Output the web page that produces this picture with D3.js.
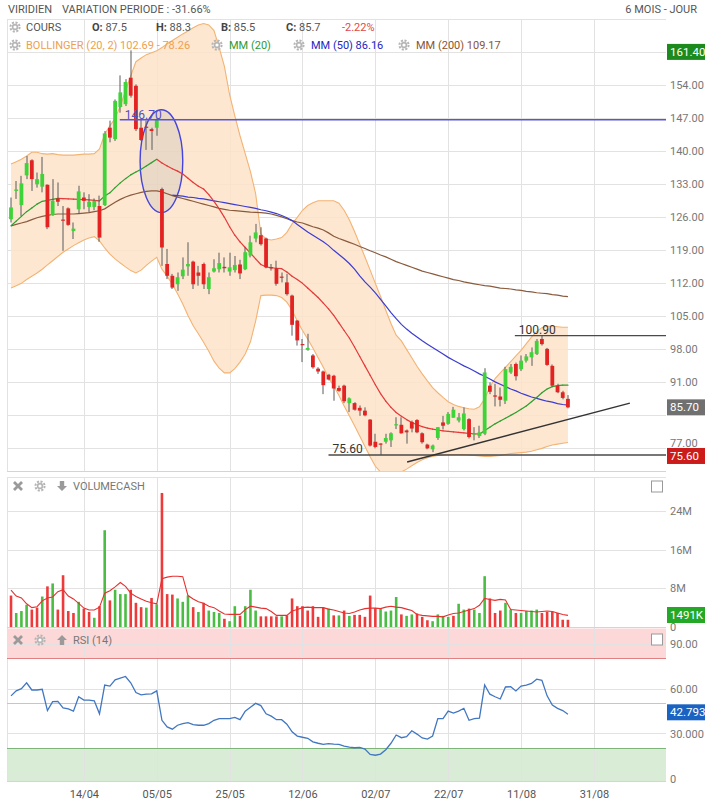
<!DOCTYPE html>
<html lang="fr">
<head>
  <title>VIRIDIEN</title>
  <meta charset="UTF-8">
  <style>
  body { margin: 0; background: #fff; }
  svg text { font-family: Roboto, "Liberation Sans", Arial, sans-serif; }
  </style>
</head>
<body>
  <svg id="chart" width="705" height="800"></svg>
  <script src="https://cdnjs.cloudflare.com/ajax/libs/d3/7.8.5/d3.min.js"></script>
  <script>
  // daily candles, one per trading day (index 0 = first bar on the chart)
  const opens = [125.6,131.6,128.6,134.9,138.1,133.0,132.5,132.9,126.5,130.0,
    125.4,127.9,123.1,127.7,130.2,128.2,128.2,128.4,128.6,145.0,
    142.6,149.4,150.0,155.6,153.9,145.0,145.1,144.7,145.0,132.0,
    116.1,113.6,111.8,113.5,115.6,116.6,114.3,116.1,110.8,114.5,
    115.0,115.5,114.5,114.8,116.0,115.0,117.9,121.5,122.2,121.5,
    115.3,115.2,113.3,112.2,109.4,104.1,99.0,97.9,96.7,93.9,
    93.3,92.6,92.4,89.8,90.3,86.6,86.6,85.6,85.0,83.1,
    78.4,77.9,78.4,78.7,81.8,82.0,80.8,82.6,83.0,80.2,
    77.8,76.8,79.2,82.5,82.2,83.5,82.9,81.1,83.2,79.9,
    79.6,80.1,90.3,88.1,88.0,87.1,93.1,94.9,93.8,95.6,
    96.3,97.0,100.2,98.1,94.5,90.3,88.9,87.5];
  const highs = [130.2,133.7,134.8,139.0,138.3,135.5,138.8,133.0,134.1,133.4,
    128.4,128.1,124.9,132.7,131.3,130.9,130.0,130.6,144.3,146.5,
    151.0,156.1,155.3,161.4,154.2,146.8,146.5,145.0,147.0,132.3,
    119.3,114.0,114.3,117.5,120.7,116.8,115.7,116.4,114.3,117.1,
    118.5,117.5,118.5,117.8,117.0,119.6,122.1,124.6,123.9,121.7,
    116.1,116.8,114.3,114.0,109.6,104.2,100.2,101.3,97.0,94.2,
    93.5,92.8,92.6,90.3,90.5,87.8,86.8,86.1,85.7,83.2,
    80.1,78.1,80.1,80.4,83.6,83.6,81.0,82.9,83.2,80.4,
    78.0,77.8,81.5,83.9,84.7,85.8,84.5,85.7,83.4,81.5,
    81.8,94.0,91.0,90.7,89.9,94.3,94.9,95.2,96.7,97.0,
    98.4,100.2,100.9,98.3,94.8,90.7,89.2,88.3];
  const lows = [124.9,129.9,126.3,134.1,131.6,132.3,131.3,123.5,126.3,128.4,
    118.9,124.2,121.4,126.7,127.7,127.0,127.5,120.8,128.4,141.9,
    142.2,148.2,149.6,151.4,144.3,142.2,140.3,140.3,143.3,115.7,
    112.9,110.8,110.4,112.9,113.6,110.8,111.5,110.8,109.7,114.3,
    114.3,114.3,113.6,114.3,112.9,114.8,117.5,120.7,120.0,115.2,
    114.7,111.5,112.2,109.4,100.9,98.8,95.3,97.7,93.9,92.8,
    88.5,91.4,87.1,89.0,86.6,84.7,85.0,83.9,83.8,77.4,
    77.0,75.6,78.0,77.3,81.1,80.1,78.0,80.4,80.2,78.0,
    76.8,76.2,78.8,81.0,82.0,83.5,82.5,80.8,79.1,78.7,
    79.2,79.8,88.5,85.9,85.9,86.4,92.8,91.4,93.4,95.2,
    94.5,96.8,98.8,94.5,90.1,88.7,87.4,85.5];
  const closes = [128.1,131.9,133.2,137.5,134.1,134.1,135.2,123.9,129.5,129.3,
    125.2,124.4,123.6,131.5,129.5,129.3,129.5,121.7,143.8,142.9,
    150.7,152.5,154.7,151.8,144.7,142.4,144.9,144.3,146.8,119.6,
    113.6,111.1,113.3,114.9,116.1,111.8,113.6,111.8,113.3,115.2,
    116.3,115.2,115.4,115.9,114.1,118.6,120.7,122.8,120.3,115.4,
    115.1,111.9,113.2,109.7,103.2,99.9,98.8,98.3,94.2,93.3,
    90.4,91.6,89.7,89.2,87.0,87.6,85.2,85.0,84.0,77.6,
    77.3,77.8,79.2,80.2,82.0,80.2,80.4,81.2,80.4,78.3,
    77.0,77.6,81.5,81.8,84.3,85.2,83.6,84.4,79.4,80.2,
    80.4,93.1,89.0,87.9,87.3,93.8,94.3,92.3,95.6,96.5,
    97.4,99.8,99.1,94.7,90.3,88.9,87.7,85.7];

  // indicators
  const bollUp = [137.3,137.8,138.3,139.0,139.8,139.8,139.5,139.4,139.5,139.3,
    139.2,139.2,139.2,139.3,139.4,139.4,139.5,140.5,143.6,145.4,
    147.0,149.6,152.8,156.0,159.0,159.8,160.5,160.9,161.3,162.0,
    162.8,163.5,164.2,164.9,165.5,166.2,166.8,167.1,166.8,165.6,
    162.0,158.0,152.0,147.5,143.3,139.5,135.7,131.0,122.5,121.4,
    121.2,121.4,121.7,122.8,124.6,126.0,127.5,128.5,129.1,129.5,
    129.5,129.5,129.5,129.0,127.5,125.5,123.0,120.3,117.6,114.8,
    112.0,109.2,106.3,103.5,101.0,99.8,98.0,96.2,94.4,92.8,
    91.3,89.9,88.8,87.8,86.9,86.3,85.9,85.6,85.4,85.3,
    85.8,87.5,90.0,91.8,93.0,94.2,95.4,96.6,97.8,99.2,
    100.6,101.8,102.6,102.9,102.9,102.8,102.7,102.69];
  const bollLow = [111.0,111.5,112.0,112.8,113.5,114.2,115.0,115.9,116.8,117.7,
    118.6,119.3,120.0,120.6,121.2,121.6,121.9,121.0,119.5,118.2,
    117.2,116.3,115.5,114.7,114.2,114.8,115.8,116.7,117.5,115.0,
    113.5,111.8,109.8,107.6,105.2,103.0,101.3,99.5,97.6,95.5,
    94.0,93.0,93.0,93.9,95.3,97.0,99.6,104.0,109.4,109.5,
    109.5,109.4,109.0,108.0,106.3,104.0,102.0,100.2,98.3,96.2,
    94.2,92.0,90.3,88.2,86.0,83.9,81.8,79.6,77.4,75.2,
    73.2,72.0,71.5,71.3,71.5,72.0,72.6,73.3,74.0,74.6,
    75.0,75.3,75.5,75.6,75.7,75.7,75.7,75.7,75.6,75.5,
    75.4,75.3,75.3,75.4,75.5,75.7,75.9,76.0,76.1,76.2,
    76.4,76.7,77.0,77.4,77.7,77.9,78.1,78.26];
  const ma20 = [124.2,125.2,126.2,127.2,128.0,128.8,129.4,129.6,129.8,130.0,
    129.95,129.9,129.85,129.8,129.75,129.7,129.6,129.5,130.5,131.2,
    132.3,133.3,134.2,135.0,135.6,136.2,136.9,137.6,138.3,137.5,
    136.9,136.3,135.8,135.2,134.3,133.4,132.6,132.0,130.8,129.4,
    127.8,126.0,124.0,122.2,120.8,119.6,118.4,117.2,116.0,115.5,
    115.3,115.2,115.1,114.4,113.5,112.8,112.0,111.0,110.0,109.0,
    107.8,106.6,105.2,103.6,102.0,100.4,98.5,96.5,94.5,92.5,
    90.5,88.6,87.0,85.7,84.6,83.8,83.1,82.5,82.0,81.6,
    81.3,81.1,80.9,80.7,80.6,80.5,80.4,80.3,80.2,80.1,
    80.0,80.8,81.5,82.2,82.8,83.4,84.0,84.6,85.3,86.0,
    86.9,87.8,88.8,89.6,90.1,90.3,90.4,90.4];
  const ma50From = 31;
  const ma50 = [130.7,130.6,130.5,130.3,130.2,130.0,129.9,129.7,129.5,
    129.3,129.1,128.9,128.7,128.5,128.3,128.1,127.9,127.6,127.4,
    127.1,126.8,126.4,125.9,125.3,124.5,123.7,122.9,122.2,121.5,
    120.8,120.0,119.0,118.1,117.2,116.2,115.0,113.6,112.3,111.2,
    110.0,108.6,107.2,105.8,104.5,103.3,102.3,101.4,100.6,99.8,
    99.1,98.4,97.7,97.0,96.3,95.7,95.1,94.5,94.0,93.4,
    92.8,92.3,91.7,91.1,90.6,90.1,89.6,89.2,88.7,88.3,
    87.9,87.6,87.3,87.0,86.8,86.5,86.3,86.16];
  const ma200 = [124.2,124.5,124.8,125.1,125.5,125.9,126.2,126.4,126.6,126.7,
    126.7,126.7,126.7,126.8,126.9,127.0,127.2,127.4,127.8,128.5,
    129.2,129.8,130.3,130.7,131.0,131.3,131.5,131.6,131.6,131.4,
    131.0,130.6,130.3,130.0,129.7,129.4,129.1,128.8,128.5,128.2,
    127.9,127.7,127.5,127.4,127.3,127.2,127.1,127.05,127.0,126.9,
    126.7,126.4,126.1,125.7,125.3,125.0,124.8,124.4,124.0,123.7,
    123.3,122.7,122.0,121.5,121.1,120.7,120.3,119.8,119.4,118.9,
    118.5,118.0,117.6,117.1,116.6,116.2,115.8,115.4,115.0,114.6,
    114.3,114.0,113.7,113.4,113.1,112.8,112.6,112.3,112.1,111.9,
    111.7,111.5,111.4,111.2,111.0,110.9,110.8,110.6,110.5,110.3,
    110.2,110.0,109.9,109.8,109.6,109.5,109.3,109.17];

  // volume in millions, u = up day, d = down day
  const volumes = [6.5,2.9,3.3,4.6,3.6,4.0,6.3,8.4,9.0,3.6,
    10.7,3.3,2.9,5.2,3.8,3.1,1.9,4.3,20.0,5.5,
    7.7,6.8,6.8,7.7,5.0,4.1,4.0,6.0,4.7,27.7,
    6.8,6.7,5.9,5.2,6.5,4.1,3.1,5.0,3.4,3.1,
    2.9,1.7,1.2,4.3,2.3,4.3,7.7,3.4,2.2,2.2,
    2.2,2.2,2.2,2.4,5.9,4.3,4.3,3.4,4.3,2.1,
    4.0,3.8,2.4,2.4,3.4,2.3,2.5,2.5,2.1,6.5,
    3.9,3.8,3.2,3.4,6.2,2.6,2.3,2.6,2.8,2.1,
    1.4,1.2,2.6,2.3,2.1,2.3,4.8,3.6,3.8,3.6,
    2.9,10.5,5.9,2.9,3.4,5.0,3.6,2.9,2.9,3.3,
    3.4,3.6,2.9,3.1,3.2,2.9,1.5,1.491];
  const volDir = 'duuuddudud' + 'ddduddudud' + 'uuudddudud' + 'dduuududuu' +
    'uduuduuudd' + 'dduddddddd' + 'dudududddd' + 'duuuuduudd' +
    'duuuuduudu' + 'uuddduuduu' + 'uudddddd';
  const volMA = [7.6,6.4,6.0,4.8,4.0,4.2,5.4,6.0,6.2,7.3,
    7.7,6.4,5.8,4.9,3.9,3.5,3.5,4.1,7.0,7.5,
    8.3,9.2,8.4,7.0,6.3,5.8,5.3,5.0,4.8,10.0,
    10.3,10.5,10.5,10.4,6.5,5.8,5.2,4.9,4.3,4.0,
    3.3,2.7,2.6,2.6,2.6,3.6,4.3,4.1,3.9,3.8,
    3.2,2.4,2.4,2.4,3.3,3.6,4.0,4.1,4.0,4.0,
    4.0,3.7,3.5,3.2,2.9,2.8,3.1,3.5,3.8,3.9,
    3.9,3.8,4.1,4.3,4.1,4.0,3.7,3.4,2.6,2.4,
    2.3,2.2,2.2,2.1,2.5,2.8,2.9,3.2,3.5,3.8,
    4.5,5.9,5.7,5.5,5.7,5.6,3.6,3.5,3.4,3.3,
    3.2,3.1,3.2,3.3,3.2,2.9,2.6,2.4];

  const rsi = [55.1,58.4,59.9,63.8,59.0,59.0,59.5,45.3,51.2,51.4,
    47.0,46.4,44.9,54.5,52.3,52.3,51.8,43.1,62.3,61.6,
    65.8,66.9,68.0,63.8,57.3,55.8,56.2,56.4,58.4,38.8,
    34.4,32.9,35.5,36.6,37.2,35.9,35.5,35.5,36.6,38.8,
    39.9,39.9,39.9,40.7,39.2,44.9,47.5,50.1,48.6,43.1,
    41.6,39.2,39.2,36.2,31.1,28.3,27.5,26.8,24.4,23.5,
    22.7,23.3,22.9,22.7,21.6,20.9,20.5,20.7,19.6,16.1,
    15.5,16.3,19.2,23.5,29.0,27.2,27.9,31.8,29.6,27.0,
    26.3,28.3,39.9,39.9,44.9,43.6,44.9,46.8,38.8,39.9,
    40.3,62.3,56.2,54.5,53.0,61.0,61.2,58.4,61.6,62.3,
    63.4,66.2,65.4,55.1,49.0,46.8,45.3,42.793];

  // axes
  const dateTicks = [14, 28, 42, 56, 70, 84, 98, 112];
  const dateLabels = ['14/04', '05/05', '25/05', '12/06', '02/07', '22/07', '11/08', '31/08'];
  const priceTicks = [77, 84, 91, 98, 105, 112, 119, 126, 133, 140, 147, 154, 161];
  const hiddenPriceLabels = [84, 161]; // sit under the value flags
  const volTicks = [0, 8, 16, 24];
  const volTickLabels = ['0', '8M', '16M', '24M'];
  const rsiTicks = [0, 30, 60, 90];
  const rsiTickLabels = ['0', '30.000', '60.00', '90.00'];

  // drawings on the price panel (bar index, price)
  const markLine = { value: 146.70, from: 20.9 };
  const levels = [{ value: 100.90, from: 96.8 }, { value: 75.60, from: 61.0 }];
  const trend = [[76.1, 74.1], [118.9, 86.6]];
  const circle = { i: 28.9, p: 137.9, ri: 4.1, rp: 10.9 };

  const header = { name: 'VIRIDIEN', variation: 'VARIATION PERIODE : -31.66%', period: '6 MOIS - JOUR' };

  // ---------------------------------------------------------------
  const plotL = 7, plotR = 666;
  const mainTop = 19, mainBot = 471;
  const volTop = 477, volBot = 627;
  const rsiTop = 628, rsiBot = 781;

  const x = d3.scaleLinear().domain([-0.77, 125.84]).range([plotL, plotR]);
  const yP = d3.scaleLinear().domain([72.2, 168.06]).range([mainBot, mainTop]);
  const yV = d3.scaleLinear().domain([0, 31]).range([volBot, volTop]);
  const yR = d3.scaleLinear().domain([0, 100]).range([778.5, 628.5]);
  const idx = d3.range(opens.length);
  const last = opens.length - 1;

  const svg = d3.select('#chart');
  svg.append('defs').append('clipPath').attr('id', 'clip-main')
    .append('rect').attr('x', plotL).attr('y', mainTop)
    .attr('width', plotR - plotL).attr('height', mainBot - mainTop);

  const crisp = v => Math.round(v) + 0.5;

  // title row
  svg.append('text').attr('x', 8).attr('y', 13).attr('font-size', 11).attr('fill', '#555').text(header.name);
  svg.append('text').attr('x', 62).attr('y', 13).attr('font-size', 11).attr('fill', '#555').text(header.variation);
  svg.append('text').attr('x', 697).attr('y', 13).attr('font-size', 11).attr('fill', '#555')
    .attr('text-anchor', 'end').text(header.period);

  // RSI zones
  svg.append('rect').attr('x', plotL).attr('width', plotR - plotL)
    .attr('y', yR(100)).attr('height', yR(80) - yR(100)).attr('fill', '#fdd8d8');
  svg.append('rect').attr('x', plotL).attr('width', plotR - plotL)
    .attr('y', yR(20)).attr('height', rsiBot - yR(20)).attr('fill', '#d9ecd6');

  // grids
  const grid = svg.append('g').attr('stroke', '#e2e2e2').attr('stroke-width', 1);
  [[mainTop, mainBot], [volTop, volBot], [rsiTop, rsiBot]].forEach(([t, b]) => {
    grid.append('g').selectAll('line').data(dateTicks.concat([-0.77])).join('line')
      .attr('x1', d => crisp(x(d))).attr('x2', d => crisp(x(d)))
      .attr('y1', t).attr('y2', b);
    grid.append('line').attr('x1', plotL).attr('x2', plotR).attr('y1', crisp(b)).attr('y2', crisp(b))
      .attr('stroke', '#d4d4d4');
  });
  grid.append('line').attr('x1', plotL).attr('x2', plotR).attr('y1', crisp(mainTop)).attr('y2', crisp(mainTop));
  grid.append('line').attr('x1', plotL).attr('x2', plotR).attr('y1', crisp(volTop)).attr('y2', crisp(volTop));
  grid.append('g').selectAll('line').data(priceTicks).join('line')
    .attr('x1', plotL).attr('x2', plotR).attr('y1', d => crisp(yP(d))).attr('y2', d => crisp(yP(d)));
  grid.append('g').selectAll('line').data(volTicks.slice(1)).join('line')
    .attr('x1', plotL).attr('x2', plotR).attr('y1', d => crisp(yV(d))).attr('y2', d => crisp(yV(d)));
  grid.append('g').selectAll('line').data(rsiTicks.slice(1)).join('line')
    .attr('x1', plotL).attr('x2', plotR).attr('y1', d => crisp(yR(d))).attr('y2', d => crisp(yR(d)));

  // RSI reference lines
  svg.append('line').attr('x1', plotL).attr('x2', plotR).attr('y1', yR(80)).attr('y2', yR(80))
    .attr('stroke', '#e08080').attr('stroke-width', 1.2);
  svg.append('line').attr('x1', plotL).attr('x2', plotR).attr('y1', yR(20)).attr('y2', yR(20))
    .attr('stroke', '#7db47a').attr('stroke-width', 1.2);
  svg.append('line').attr('x1', plotL).attr('x2', plotR).attr('y1', yR(50)).attr('y2', yR(50))
    .attr('stroke', '#a9cdf0').attr('stroke-width', 1);

  // ---- price panel
  const main = svg.append('g').attr('clip-path', 'url(#clip-main)');

  main.append('path').datum(idx)
    .attr('d', d3.area().x(i => x(i)).y0(i => yP(bollLow[i])).y1(i => yP(bollUp[i])))
    .attr('fill', '#fde3c9').attr('fill-opacity', 0.85);
  [bollUp, bollLow].forEach(arr => {
    main.append('path').datum(idx)
      .attr('d', d3.line().x(i => x(i)).y(i => yP(arr[i])))
      .attr('fill', 'none').attr('stroke', '#f3b373').attr('stroke-width', 1.1);
  });

  // circled zone
  main.append('ellipse')
    .attr('cx', x(circle.i)).attr('cy', yP(circle.p))
    .attr('rx', x(circle.i + circle.ri) - x(circle.i))
    .attr('ry', yP(circle.p - circle.rp) - yP(circle.p))
    .attr('fill', '#9a9a9a').attr('fill-opacity', 0.18)
    .attr('stroke', '#4545dd').attr('stroke-width', 1.4);

  // moving averages
  main.append('path').datum(idx)
    .attr('d', d3.line().x(i => x(i)).y(i => yP(ma200[i])))
    .attr('fill', 'none').attr('stroke', '#8a5a3c').attr('stroke-width', 1.2);
  main.append('path').datum(ma50)
    .attr('d', d3.line().x((d, k) => x(k + ma50From)).y(d => yP(d)))
    .attr('fill', 'none').attr('stroke', '#3c3cd2').attr('stroke-width', 1.2);
  main.append('g').selectAll('line').data(d3.pairs(idx)).join('line')
    .attr('x1', d => x(d[0])).attr('y1', d => yP(ma20[d[0]]))
    .attr('x2', d => x(d[1])).attr('y2', d => yP(ma20[d[1]]))
    .attr('stroke', d => ma20[d[1]] >= ma20[d[0]] ? '#2f9e2f' : '#e43a3a')
    .attr('stroke-width', 1.2).attr('stroke-linecap', 'round');

  // candles
  const bw = 3.8;
  const candles = main.append('g').selectAll('g').data(idx).join('g');
  candles.append('line')
    .attr('x1', i => crisp(x(i)) - 0.5).attr('x2', i => crisp(x(i)) - 0.5)
    .attr('y1', i => yP(highs[i])).attr('y2', i => yP(lows[i]))
    .attr('stroke', '#5a5a5a').attr('stroke-width', 1);
  candles.append('rect')
    .attr('x', i => x(i) - bw / 2).attr('width', bw)
    .attr('y', i => Math.min(yP(opens[i]), yP(closes[i])) - (Math.abs(yP(opens[i]) - yP(closes[i])) < 1.2 ? 0.6 : 0))
    .attr('height', i => Math.max(1.2, Math.abs(yP(opens[i]) - yP(closes[i]))))
    .attr('fill', i => closes[i] >= opens[i] ? '#3fd33a' : '#e32222');

  // horizontal marks and trendline
  main.append('line').attr('x1', x(markLine.from)).attr('x2', plotR)
    .attr('y1', yP(markLine.value)).attr('y2', yP(markLine.value))
    .attr('stroke', '#5656da').attr('stroke-width', 1.6);
  main.append('text').attr('x', x(markLine.from) + 5).attr('y', yP(markLine.value) - 1)
    .attr('font-size', 12).attr('fill', '#5050c8').text(markLine.value.toFixed(2));
  const lv = main.append('g').selectAll('g').data(levels).join('g');
  lv.append('line').attr('x1', d => x(d.from)).attr('x2', plotR)
    .attr('y1', d => yP(d.value)).attr('y2', d => yP(d.value))
    .attr('stroke', '#4a4a4a').attr('stroke-width', 1.4);
  lv.append('text').attr('x', d => x(d.from) + 4).attr('y', d => yP(d.value) - 2)
    .attr('font-size', 12).attr('fill', '#333').text(d => d.value.toFixed(2));
  main.append('line')
    .attr('x1', x(trend[0][0])).attr('y1', yP(trend[0][1]))
    .attr('x2', x(trend[1][0])).attr('y2', yP(trend[1][1]))
    .attr('stroke', '#333').attr('stroke-width', 1.4);

  // ---- volume panel
  const vw = 2.6;
  svg.append('g').selectAll('rect').data(idx).join('rect')
    .attr('x', i => x(i) - vw / 2).attr('width', vw)
    .attr('y', i => yV(volumes[i])).attr('height', i => yV(0) - yV(volumes[i]))
    .attr('fill', i => volDir[i] === 'u' ? '#4bbd45' : '#ee3a3a');
  svg.append('path').datum(idx)
    .attr('d', d3.line().x(i => x(i)).y(i => yV(volMA[i])))
    .attr('fill', 'none').attr('stroke', '#e53030').attr('stroke-width', 1.1);

  // ---- RSI panel
  svg.append('path').datum(idx)
    .attr('d', d3.line().x(i => x(i)).y(i => yR(rsi[i])))
    .attr('fill', 'none').attr('stroke', '#4177c0').attr('stroke-width', 1.3);

  // ---- right axes
  const styleAxis = g => {
    g.select('.domain').remove();
    g.selectAll('text').attr('fill', '#777').attr('font-size', 11);
  };
  svg.append('g').attr('transform', `translate(${plotR},0)`)
    .call(d3.axisRight(yP).tickValues(priceTicks).tickFormat(d => d.toFixed(2)).tickSize(0).tickPadding(4))
    .call(styleAxis)
    .call(g => {
      g.selectAll('.tick').filter(d => hiddenPriceLabels.includes(d)).remove();
      // lowest label is pushed up a little so the low flag does not hide it
      g.selectAll('.tick').filter(d => d === priceTicks[0]).select('text').attr('dy', '-0.2em');
    });
  svg.append('g').attr('transform', `translate(${plotR},0)`)
    .call(d3.axisRight(yV).tickValues(volTicks).tickFormat((d, k) => volTickLabels[k]).tickSize(0).tickPadding(4))
    .call(styleAxis);
  svg.append('g').attr('transform', `translate(${plotR},0)`)
    .call(d3.axisRight(yR).tickValues(rsiTicks).tickFormat((d, k) => rsiTickLabels[k]).tickSize(0).tickPadding(4))
    .call(styleAxis);
  svg.append('g').attr('transform', `translate(0,${rsiBot})`)
    .call(d3.axisBottom(x).tickValues(dateTicks).tickFormat((d, k) => dateLabels[k]).tickSize(0).tickPadding(9))
    .call(styleAxis)
    .call(g => g.selectAll('text').attr('fill', '#555'));

  // value flags on the axes
  function flag(y, label, color) {
    const g = svg.append('g').attr('transform', `translate(${plotR + 1},${y})`);
    g.append('rect').attr('x', 0).attr('y', -8).attr('width', 38).attr('height', 16).attr('fill', color);
    g.append('text').attr('x', 3).attr('y', 4).attr('font-size', 11.5).attr('fill', '#fff').text(label);
  }
  flag(yP(d3.max(highs)) + 1.5, d3.max(highs).toFixed(2), '#1d8a1d');
  flag(yP(closes[last]), closes[last].toFixed(2), '#707070');
  flag(yP(d3.min(lows)) + 1, d3.min(lows).toFixed(2), '#cc1b1b');
  flag(Math.min(yV(volumes[last]), volBot - 12), Math.round(volumes[last] * 1000) + 'K', '#25a825');
  flag(yR(rsi[last]) - 2, rsi[last].toFixed(3), '#1b63c2');

  // ---- legend and panel captions
  function gear(cx, cy) {
    const g = svg.append('g').attr('transform', `translate(${cx},${cy})`);
    g.append('circle').attr('r', 4.6).attr('fill', 'none').attr('stroke', '#b5b5b5')
      .attr('stroke-width', 2).attr('stroke-dasharray', '2.1 1.5');
    g.append('circle').attr('r', 3.2).attr('fill', '#b5b5b5');
    g.append('circle').attr('r', 1.6).attr('fill', '#fff');
  }
  function cross(cx, cy) {
    svg.append('path').attr('d', `M${cx - 4},${cy - 4}L${cx + 4},${cy + 4}M${cx + 4},${cy - 4}L${cx - 4},${cy + 4}`)
      .attr('stroke', '#9a9a9a').attr('stroke-width', 2.8);
  }
  function arrow(cx, cy, up) {
    const s = up ? -1 : 1;
    svg.append('path')
      .attr('d', `M${cx - 2.2},${cy - 5 * s}L${cx + 2.2},${cy - 5 * s}L${cx + 2.2},${cy}L${cx + 5},${cy}L${cx},${cy + 5 * s}L${cx - 5},${cy}L${cx - 2.2},${cy}Z`)
      .attr('fill', '#9a9a9a');
  }
  function checkbox(y) {
    svg.append('rect').attr('x', 651.5).attr('y', y).attr('width', 11).attr('height', 11)
      .attr('fill', '#fff').attr('stroke', '#999');
  }

  const legend1 = [
    { x: 26, parts: [['COURS', '#555', 400]] },
    { x: 92, parts: [['O: ', '#444', 700], ['87.5', '#555', 400]] },
    { x: 156, parts: [['H: ', '#444', 700], ['88.3', '#555', 400]] },
    { x: 221, parts: [['B: ', '#444', 700], ['85.5', '#555', 400]] },
    { x: 286, parts: [['C: ', '#444', 700], ['85.7', '#555', 400]] },
    { x: 342, parts: [['-2.22%', '#e04848', 400]] }
  ];
  const legend2 = [
    { x: 26, gear: 15, parts: [['BOLLINGER (20, 2) 102.69 - 78.26', '#eea04e', 400]] },
    { x: 229, gear: 217, parts: [['MM (20)', '#2f9a2f', 400]] },
    { x: 311, gear: 299, parts: [['MM (50) 86.16', '#2525c0', 400]] },
    { x: 416, gear: 404, parts: [['MM (200) 109.17', '#8a5530', 400]] }
  ];
  gear(15, 27);
  [[legend1, 31], [legend2, 49]].forEach(([items, y]) => {
    items.forEach(it => {
      if (it.gear) gear(it.gear, y - 4);
      const t = svg.append('text').attr('x', it.x).attr('y', y).attr('font-size', 11);
      it.parts.forEach(p => t.append('tspan').attr('fill', p[1]).attr('font-weight', p[2]).text(p[0]));
    });
  });

  cross(18, 486); gear(40, 486); arrow(62, 486, false);
  svg.append('text').attr('x', 73).attr('y', 490).attr('font-size', 11).attr('fill', '#777').text('VOLUMECASH');
  checkbox(481);
  cross(18, 640); gear(40, 640); arrow(62, 640, true);
  svg.append('text').attr('x', 73).attr('y', 644).attr('font-size', 11).attr('fill', '#777').text('RSI (14)');
  checkbox(634);
  </script>
</body>
</html>
